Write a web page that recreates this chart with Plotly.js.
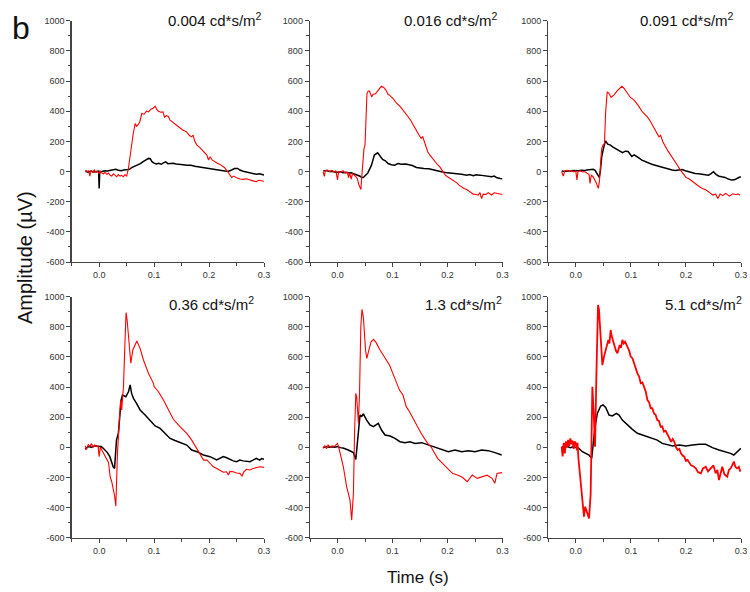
<!DOCTYPE html>
<html>
<head>
<meta charset="utf-8">
<script src="https://cdn.plot.ly/plotly-3.0.1.min.js"></script>
<style>html,body{margin:0;padding:0;background:#fff;}#chart{width:750px;height:592px;}</style>
</head>
<body>
<div id="chart"></div>
<script>
// ---------- DATA ----------
const panelTitles = ["0.004 cd*s/m<sup>2</sup>", "0.016 cd*s/m<sup>2</sup>", "0.091 cd*s/m<sup>2</sup>",
                     "0.36 cd*s/m<sup>2</sup>", "1.3 cd*s/m<sup>2</sup>", "5.1 cd*s/m<sup>2</sup>"];
const xTickVals = [0.0, 0.1, 0.2, 0.3];
const yTickVals = [-600, -400, -200, 0, 200, 400, 600, 800, 1000];

// Panel 1 (0.004)
const p1RedT = [-0.025,-0.022,-0.019,-0.017,-0.015,-0.012,-0.009,-0.006,-0.003,0.000,0.002,0.005,0.008,0.011,0.014,0.017,0.020,0.023,0.026,0.029,0.032,0.035,0.038,0.041,0.044,0.047,0.050,0.053,0.056,0.059,0.062,0.0655,0.068,0.071,0.074,0.0776,0.082,0.086,0.090,0.094,0.098,0.102,0.105,0.108,0.112,0.116,0.119,0.122,0.126,0.129,0.133,0.138,0.142,0.147,0.152,0.159,0.164,0.168,0.171,0.174,0.178,0.183,0.187,0.192,0.196,0.199,0.202,0.206,0.210,0.215,0.219,0.224,0.228,0.234,0.238,0.241,0.245,0.250,0.256,0.262,0.268,0.274,0.280,0.286,0.290,0.295,0.300];
const p1RedV = [8,0,5,-30,5,-5,10,-5,0,-15,5,-10,-15,-5,-20,-10,-25,-30,-15,-25,-35,-20,-30,-25,-35,-20,-30,15,97,164,252,318,300,310,330,385,380,400,395,413,420,433,410,400,393,395,360,370,365,340,329,315,307,292,275,263,240,230,241,200,175,160,142,120,109,76,98,75,64,55,49,38,27,-2,-24,-39,-30,-42,-50,-52,-48,-57,-62,-68,-58,-61,-65];
const p1BlkT = [-0.025,-0.02,-0.015,-0.01,-0.005,-0.001,0.000,0.001,0.005,0.01,0.015,0.02,0.025,0.03,0.035,0.04,0.045,0.05,0.055,0.06,0.065,0.07,0.075,0.08,0.085,0.09,0.093,0.096,0.099,0.104,0.108,0.113,0.117,0.121,0.125,0.13,0.135,0.14,0.147,0.153,0.16,0.167,0.174,0.181,0.188,0.194,0.2,0.207,0.214,0.221,0.228,0.234,0.24,0.246,0.252,0.256,0.262,0.268,0.274,0.28,0.286,0.292,0.3];
const p1BlkV = [2,-5,3,-3,0,2,-112,-5,0,5,3,8,10,15,8,5,10,12,14,27,35,42,52,65,75,87,85,65,57,50,55,48,57,64,52,53,55,50,49,45,42,42,35,31,27,24,20,15,9,5,2,0,8,20,20,10,2,-2,-7,-12,-18,-15,-24];

// Panel 2 (0.016)
const p2RedT = [-0.026,-0.024,-0.022,-0.018,-0.014,-0.010,-0.006,-0.003,0.000,0.002,0.006,0.010,0.014,0.018,0.020,0.022,0.025,0.027,0.030,0.033,0.036,0.039,0.0426,0.044,0.046,0.0482,0.050,0.052,0.0536,0.056,0.058,0.062,0.065,0.069,0.0755,0.0797,0.084,0.088,0.0918,0.095,0.101,0.107,0.1145,0.119,0.1236,0.128,0.133,0.136,0.139,0.143,0.146,0.149,0.152,0.155,0.158,0.161,0.164,0.168,0.173,0.177,0.182,0.186,0.192,0.196,0.200,0.205,0.211,0.217,0.221,0.226,0.230,0.235,0.241,0.247,0.252,0.256,0.259,0.262,0.265,0.270,0.274,0.280,0.285,0.290,0.296,0.300];
const p2RedV = [-2,-33,5,10,0,8,-5,5,-55,0,-5,5,-10,-5,-40,-10,-50,-15,-20,-35,-46,-90,-119,-40,60,153,175,340,517,534,534,495,512,515,550,565,557,540,512,505,484,455,429,405,385,365,340,318,296,275,256,240,219,230,197,160,131,109,85,64,45,31,-2,-24,-35,-46,-60,-75,-90,-105,-112,-119,-135,-150,-152,-156,-140,-179,-150,-152,-140,-156,-141,-145,-150,-152];
const p2BlkT = [-0.026,-0.02,-0.015,-0.01,-0.005,0.000,0.005,0.01,0.015,0.02,0.025,0.03,0.035,0.04,0.044,0.047,0.051,0.055,0.0618,0.067,0.073,0.077,0.082,0.087,0.092,0.098,0.104,0.11,0.116,0.124,0.13,0.136,0.1436,0.15,0.157,0.166,0.172,0.18,0.189,0.2,0.21,0.22,0.2255,0.235,0.24,0.247,0.252,0.259,0.265,0.272,0.28,0.285,0.29,0.296,0.3];
const p2BlkV = [4,6,0,2,-3,-5,-2,-8,-5,-10,-8,-15,-20,-30,-38,-40,-25,-11,42,109,124,105,80,71,53,45,42,53,48,50,45,40,27,22,20,18,12,9,-2,-9,-11,-13,-18,-24,-20,-28,-22,-24,-28,-31,-35,-30,-42,-46,-48];

// Panel 3 (0.091)
const p3RedT = [-0.0257,-0.0227,-0.020,-0.016,-0.012,-0.008,-0.004,0.000,0.002,0.004,0.008,0.012,0.016,0.020,0.024,0.0258,0.028,0.031,0.0349,0.037,0.0409,0.043,0.0458,0.047,0.050,0.052,0.054,0.057,0.060,0.064,0.069,0.075,0.0836,0.088,0.0936,0.099,0.1058,0.113,0.1209,0.125,0.13,0.135,0.1391,0.145,0.148,0.151,0.154,0.158,0.1664,0.1755,0.1845,0.190,0.195,0.200,0.206,0.212,0.218,0.2246,0.231,0.2367,0.243,0.249,0.254,0.258,0.262,0.267,0.272,0.279,0.285,0.290,0.295,0.2982];
const p3RedV = [-2,-30,5,8,0,5,-3,3,-55,0,5,-3,0,-10,-20,-79,-25,-33,-55,-75,-112,-60,97,153,181,181,385,528,520,491,506,534,565,550,521,491,473,440,395,380,362,335,307,263,250,230,240,197,142,87,42,9,-13,-39,-50,-68,-85,-101,-115,-123,-140,-156,-150,-179,-150,-160,-145,-163,-148,-152,-150,-156];
const p3BlkT = [-0.0257,-0.02,-0.015,-0.01,-0.005,0.0,0.005,0.01,0.015,0.02,0.025,0.0316,0.035,0.0385,0.0425,0.0445,0.047,0.050,0.054,0.058,0.063,0.0669,0.072,0.077,0.0848,0.09,0.095,0.1016,0.106,0.1107,0.115,0.12,0.126,0.132,0.138,0.144,0.15,0.157,0.163,0.169,0.175,0.181,0.187,0.193,0.199,0.205,0.211,0.2167,0.223,0.229,0.235,0.2409,0.245,0.25,0.255,0.26,0.265,0.271,0.277,0.283,0.288,0.292,0.296,0.2997];
const p3BlkV = [4,0,5,2,6,3,5,8,6,10,12,15,8,-13,-39,0,97,150,203,181,175,164,150,142,125,135,133,100,110,101,88,75,65,53,48,42,35,27,20,13,10,7,10,13,5,-2,-8,-13,-15,-18,-20,-24,-15,-2,-20,-31,-35,-39,-50,-57,-55,-46,-40,-35];

// Panel 4 (0.36)
const p4RedT = [-0.0255,-0.023,-0.020,-0.017,-0.014,-0.011,-0.008,-0.005,-0.002,0.000,0.002,0.005,0.008,0.011,0.014,0.017,0.020,0.023,0.026,0.028,0.0303,0.0333,0.037,0.039,0.041,0.0442,0.047,0.049,0.051,0.0533,0.0576,0.0612,0.0685,0.0745,0.0806,0.0897,0.0988,0.1,0.1079,0.117,0.126,0.135,0.147,0.1594,0.1685,0.1776,0.182,0.1867,0.19,0.196,0.202,0.208,0.214,0.22,0.226,0.232,0.235,0.238,0.244,0.25,0.256,0.26,0.263,0.268,0.274,0.28,0.286,0.2927,0.3];
const p4RedV = [10,-15,20,5,25,0,15,5,10,-62,0,-20,-35,-50,-70,-100,-195,-230,-285,-320,-390,-40,203,314,248,402,700,894,840,735,558,646,706,657,580,491,425,403,369,314,248,186,137,93,48,-7,-40,-62,-85,-84,-110,-129,-140,-151,-165,-162,-184,-160,-162,-170,-173,-190,-165,-146,-150,-140,-135,-129,-133];
const p4BlkT = [-0.0255,-0.022,-0.018,-0.014,-0.010,-0.006,-0.002,0.0036,0.007,0.0103,0.015,0.0194,0.0255,0.028,0.0315,0.035,0.037,0.04,0.0424,0.0485,0.0533,0.0564,0.059,0.0624,0.068,0.0745,0.0836,0.0927,0.1018,0.111,0.12,0.129,0.138,0.1473,0.1594,0.1685,0.178,0.1897,0.2018,0.2139,0.22,0.226,0.232,0.238,0.244,0.25,0.256,0.262,0.2745,0.28,0.286,0.292,0.296,0.3];
const p4BlkV = [-13,0,5,0,8,10,5,5,-5,-15,-35,-62,-129,-140,48,93,200,314,347,336,369,414,358,325,292,248,214,181,142,126,93,59,45,31,15,-18,-29,-51,-62,-84,-70,-62,-69,-80,-90,-95,-84,-90,-95,-85,-73,-85,-75,-80];

// Panel 5 (1.3)
const p5RedT = [-0.0264,-0.023,-0.020,-0.017,-0.013,-0.010,-0.006,-0.003,0.000,0.002,0.0045,0.0106,0.0167,0.020,0.0227,0.0258,0.029,0.031,0.0333,0.035,0.038,0.040,0.0424,0.0445,0.047,0.051,0.0533,0.057,0.061,0.0655,0.0703,0.0764,0.0824,0.0885,0.0945,0.1006,0.1067,0.1127,0.119,0.125,0.1309,0.14,0.146,0.152,0.158,0.164,0.17,0.176,0.182,0.191,0.2,0.209,0.218,0.227,0.236,0.245,0.254,0.263,0.272,0.281,0.286,0.29,0.2995];
const p5RedV = [-7,10,-10,15,0,10,5,15,26,5,-31,-129,-262,-317,-350,-483,-300,93,359,330,159,350,801,916,865,646,591,646,701,717,695,651,613,584,546,491,429,380,347,270,236,170,137,93,59,26,4,-40,-73,-106,-140,-173,-184,-199,-228,-184,-206,-195,-185,-206,-239,-173,-168];
const p5BlkT = [-0.0264,-0.02,-0.015,-0.01,-0.005,0.0,0.005,0.01,0.0197,0.0288,0.0333,0.0379,0.0409,0.044,0.047,0.053,0.059,0.0652,0.0742,0.08,0.0864,0.0955,0.1045,0.1136,0.1227,0.1318,0.1409,0.153,0.165,0.177,0.1894,0.2015,0.2136,0.2258,0.238,0.25,0.262,0.274,0.2864,0.2985];
const p5BlkV = [-2,5,0,3,0,5,-2,-5,-18,-35,-80,115,214,205,223,181,148,137,159,115,82,75,59,37,31,37,26,31,15,4,-13,-29,-18,-29,-22,-29,-18,-22,-35,-51];

// Panel 6 (5.1)
const p6RedT = [-0.0257,-0.024,-0.022,-0.020,-0.018,-0.016,-0.014,-0.012,-0.010,-0.008,-0.006,-0.004,-0.002,0.000,0.002,0.003,0.005,0.0088,0.0118,0.0148,0.017,0.019,0.021,0.024,0.027,0.0288,0.030,0.0325,0.0349,0.0373,0.0403,0.0421,0.0451,0.0482,0.0512,0.0542,0.057,0.059,0.061,0.0633,0.065,0.0664,0.069,0.071,0.073,0.0755,0.0797,0.082,0.0845,0.087,0.0894,0.0936,0.097,0.0997,0.103,0.1058,0.109,0.1118,0.115,0.1179,0.121,0.124,0.127,0.13,0.133,0.136,0.139,0.142,0.145,0.148,0.151,0.154,0.157,0.16,0.163,0.167,0.17,0.173,0.176,0.179,0.182,0.185,0.188,0.191,0.194,0.197,0.2,0.203,0.206,0.209,0.213,0.218,0.222,0.227,0.231,0.236,0.24,0.245,0.25,0.254,0.257,0.26,0.263,0.266,0.27,0.275,0.278,0.281,0.284,0.287,0.29,0.293,0.296,0.299];
const p6RedV = [4,-60,30,-40,40,0,50,10,60,20,45,-10,40,26,-20,30,-84,-217,-350,-461,-394,-420,-439,-472,-306,48,402,225,4,469,945,912,690,546,602,646,690,713,690,779,740,723,690,657,640,624,679,660,713,690,701,668,640,602,590,558,520,491,470,425,430,392,370,314,300,259,260,225,215,181,175,137,140,104,110,82,60,37,55,37,0,-18,-10,-40,-55,-62,-90,-84,-100,-118,-125,-140,-165,-173,-140,-129,-160,-140,-120,-173,-150,-217,-170,-129,-180,-195,-150,-140,-120,-95,-130,-140,-130,-162];
const p6BlkT = [-0.0257,-0.02,-0.015,-0.01,-0.005,0.0,0.005,0.0118,0.018,0.024,0.0288,0.031,0.0349,0.0391,0.0451,0.0494,0.0542,0.0603,0.0664,0.0736,0.0785,0.0845,0.0936,0.1027,0.1118,0.1209,0.13,0.139,0.148,0.157,0.167,0.176,0.188,0.2,0.212,0.224,0.236,0.248,0.26,0.272,0.281,0.287,0.293,0.2997];
const p6BlkV = [4,0,5,-2,3,0,-5,-29,-40,-51,-73,15,137,225,274,281,265,214,208,225,214,181,148,119,93,82,71,59,48,26,15,9,15,9,15,20,20,-2,-18,-29,-40,-51,-29,-7];

const redSeries = [[p1RedT,p1RedV],[p2RedT,p2RedV],[p3RedT,p3RedV],[p4RedT,p4RedV],[p5RedT,p5RedV],[p6RedT,p6RedV]];
const blackSeries = [[p1BlkT,p1BlkV],[p2BlkT,p2BlkV],[p3BlkT,p3BlkV],[p4BlkT,p4BlkV],[p5BlkT,p5BlkV],[p6BlkT,p6BlkV]];

// ---------- LAYOUT ----------
const W = 750, H = 592;
const colPx = [[71.7, 264], [310, 502.5], [548.3, 741]];
const rowPx = [[20.7, 262], [296.7, 537.7]];
const titlePx = [[165.7, 20], [401.7, 20], [638, 20], [166.7, 303], [423, 303], [662.7, 303]];

const traces = [];
const layout = {
  width: W, height: H,
  margin: {l: 0, r: 0, t: 0, b: 0},
  paper_bgcolor: '#fff', plot_bgcolor: '#fff',
  showlegend: false,
  font: {family: 'Liberation Sans, Arial, sans-serif', color: '#222'},
  annotations: []
};

for (let i = 0; i < 6; i++) {
  const r = Math.floor(i / 3), c = i % 3;
  const sfx = i === 0 ? '' : String(i + 1);
  const xa = 'x' + sfx, ya = 'y' + sfx;
  traces.push({x: blackSeries[i][0], y: blackSeries[i][1], xaxis: xa, yaxis: ya, type: 'scatter', mode: 'lines',
               line: {color: '#000', width: 1.5}, hoverinfo: 'skip'});
  traces.push({x: redSeries[i][0], y: redSeries[i][1], xaxis: xa, yaxis: ya, type: 'scatter', mode: 'lines',
               line: {color: '#ff0000', width: i === 5 ? 1.8 : 1.1}, hoverinfo: 'skip'});
  const axCommon = {showgrid: false, zeroline: false, showline: true, linecolor: '#444', linewidth: 1.3,
                    ticks: 'outside', ticklen: 4, tickwidth: 1, tickcolor: '#444',
                    tickfont: {size: 9, color: '#333', family: 'Liberation Sans, Arial, sans-serif'}, fixedrange: true};
  layout['xaxis' + sfx] = Object.assign({}, axCommon, {
    domain: [colPx[c][0] / W, colPx[c][1] / W], anchor: ya, range: [-0.05, 0.3],
    tickmode: 'array', tickvals: xTickVals, ticktext: xTickVals.map(v => v.toFixed(1)),
    minor: {dtick: 0.05, tick0: 0, ticks: 'outside', ticklen: 2.5, tickcolor: '#444', showgrid: false}
  });
  layout['yaxis' + sfx] = Object.assign({}, axCommon, {
    domain: [1 - rowPx[r][1] / H, 1 - rowPx[r][0] / H], anchor: xa, range: [-600, 1000],
    tickmode: 'array', tickvals: yTickVals, ticktext: yTickVals.map(String),
    minor: {dtick: 100, tick0: 0, ticks: 'outside', ticklen: 2.5, tickcolor: '#444', showgrid: false}
  });
  layout.annotations.push({text: panelTitles[i], xref: 'paper', yref: 'paper',
    x: titlePx[i][0] / W, y: 1 - titlePx[i][1] / H, xanchor: 'left', yanchor: 'middle',
    showarrow: false, font: {size: 15, color: '#111'}});
}

layout.annotations.push({text: 'b', xref: 'paper', yref: 'paper', x: 21 / W, y: 1 - 28 / H,
  xanchor: 'center', yanchor: 'middle', showarrow: false, font: {size: 32, color: '#111'}});
layout.annotations.push({text: 'Amplitude (µV)', xref: 'paper', yref: 'paper', x: 25 / W, y: 1 - 258 / H,
  xanchor: 'center', yanchor: 'middle', textangle: -90, showarrow: false, font: {size: 20, color: '#111'}});
layout.annotations.push({text: 'Time (s)', xref: 'paper', yref: 'paper', x: 418 / W, y: 1 - 577 / H,
  xanchor: 'center', yanchor: 'middle', showarrow: false, font: {size: 17, color: '#111'}});

Plotly.newPlot('chart', traces, layout, {displayModeBar: false, staticPlot: true});
</script>
</body>
</html>
